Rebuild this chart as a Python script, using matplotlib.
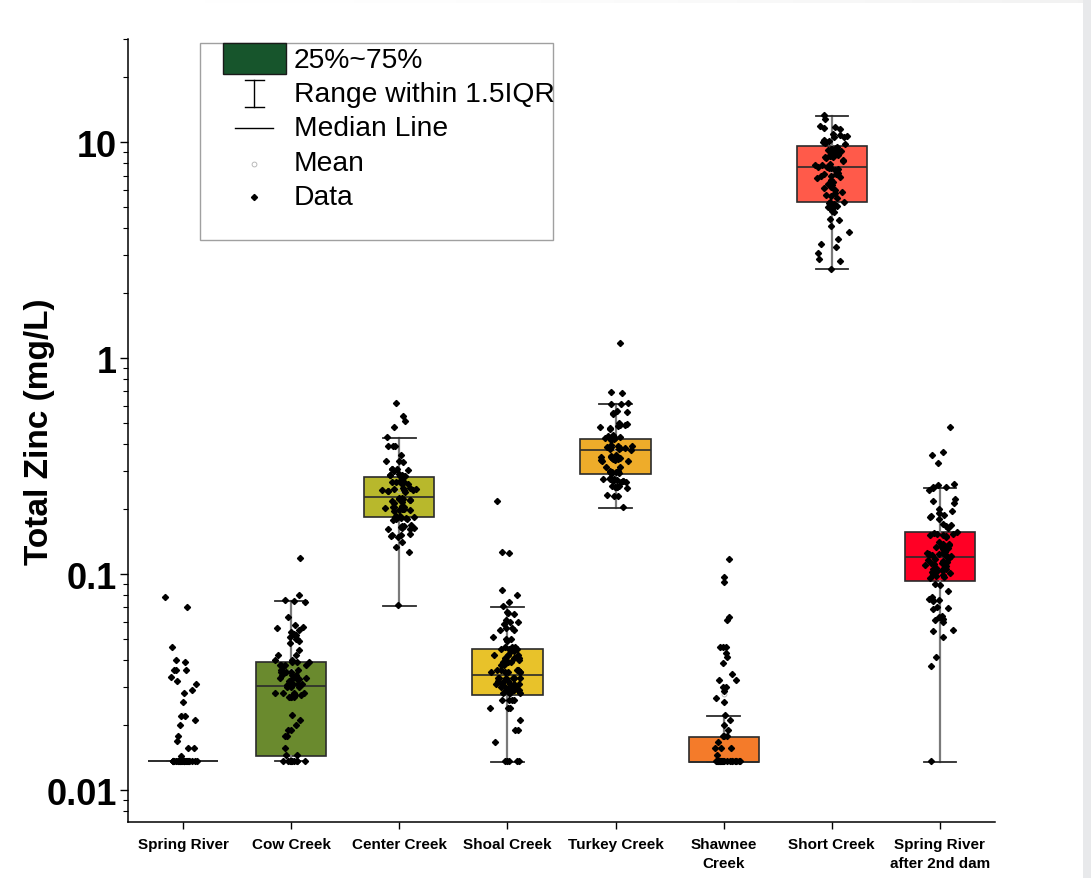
import numpy as np
import matplotlib.pyplot as plt
from matplotlib.patches import Rectangle
from matplotlib.lines import Line2D
from matplotlib.ticker import LogLocator, NullFormatter

plt.rcParams['font.family'] = ['Liberation Sans', 'DejaVu Sans']

# Sites along the x axis
sites = ["Spring River", "Cow Creek", "Center Creek", "Shoal Creek",
         "Turkey Creek", "Shawnee\nCreek", "Short Creek",
         "Spring River\nafter 2nd dam"]
box_colors = ["#3E7FA8", "#6A8A2E", "#B8B82C", "#E8C22A",
              "#EEAC2A", "#F47B2A", "#FF5A4A", "#FF0025"]

# Box statistics (mg/L): lower whisker, Q1, median, Q3, upper whisker
whis_lo = [0.0136, 0.0136, 0.0711, 0.0135, 0.202, 0.0135, 2.58, 0.0135]
q1 = [0.0136, 0.0144, 0.184, 0.0275, 0.290, 0.0135, 5.27, 0.0929]
median = [0.0136, 0.0303, 0.227, 0.034, 0.375, 0.0135, 7.66, 0.120]
q3 = [0.0136, 0.0392, 0.281, 0.045, 0.422, 0.0176, 9.58, 0.156]
whis_hi = [0.0136, 0.075, 0.426, 0.0703, 0.612, 0.0220, 13.2, 0.250]

# Individual samples, total zinc (mg/L)
spring_river = [0.078, 0.070, 0.046, 0.040, 0.039, 0.036, 0.036, 0.036, 0.0335,
                0.032, 0.031, 0.029, 0.028, 0.0256, 0.022, 0.022, 0.021, 0.020,
                0.0178, 0.0168, 0.0156, 0.0156, 0.0144] + [0.0136] * 25
cow_creek = [0.119, 0.080, 0.076, 0.075, 0.074, 0.063, 0.058, 0.057, 0.056,
             0.055, 0.054, 0.053, 0.052, 0.051, 0.050, 0.050, 0.049, 0.048,
             0.0445, 0.042, 0.042, 0.040, 0.040, 0.039, 0.039, 0.039, 0.038,
             0.038, 0.038, 0.038, 0.037, 0.036, 0.036, 0.035, 0.035, 0.035,
             0.034, 0.034, 0.034, 0.033, 0.033, 0.033, 0.0325, 0.0325, 0.032,
             0.031, 0.031, 0.031, 0.0305, 0.030, 0.030, 0.030, 0.028, 0.028,
             0.028, 0.028, 0.0275, 0.0275, 0.027, 0.027, 0.027, 0.027, 0.0223,
             0.021, 0.0201, 0.0189, 0.0189, 0.0178, 0.0178, 0.0156, 0.0145,
             0.0145] + [0.0136] * 10
center_creek = [0.616, 0.537, 0.513, 0.478, 0.430, 0.392, 0.392, 0.390, 0.356,
                0.334, 0.334, 0.330, 0.306, 0.306, 0.305, 0.303, 0.300, 0.290,
                0.288, 0.287, 0.287, 0.285, 0.284, 0.283, 0.282, 0.270, 0.268,
                0.267, 0.266, 0.265, 0.262, 0.250, 0.249, 0.248, 0.247, 0.246,
                0.245, 0.244, 0.243, 0.242, 0.240, 0.226, 0.224, 0.223, 0.222,
                0.221, 0.220, 0.219, 0.218, 0.216, 0.214, 0.206, 0.205, 0.204,
                0.204, 0.203, 0.202, 0.201, 0.200, 0.199, 0.198, 0.197, 0.196,
                0.186, 0.185, 0.184, 0.184, 0.183, 0.182, 0.181, 0.180, 0.179,
                0.178, 0.168, 0.167, 0.166, 0.165, 0.164, 0.163, 0.162, 0.161,
                0.153, 0.152, 0.151, 0.150, 0.149, 0.141, 0.133, 0.126, 0.072]
shoal_creek = [0.218, 0.127, 0.125, 0.0845, 0.0799, 0.0744, 0.071, 0.067,
               0.066, 0.065, 0.061, 0.060, 0.060, 0.059, 0.056, 0.056, 0.055,
               0.055, 0.051, 0.050, 0.050, 0.049, 0.046, 0.046, 0.046, 0.045,
               0.045, 0.045, 0.044, 0.044, 0.042, 0.042, 0.042, 0.042, 0.041,
               0.041, 0.041, 0.040, 0.040, 0.039, 0.039, 0.039, 0.038, 0.038,
               0.036, 0.036, 0.036, 0.036, 0.036, 0.035, 0.035, 0.035, 0.035,
               0.035, 0.033, 0.033, 0.033, 0.033, 0.033, 0.033, 0.033, 0.032,
               0.032, 0.032, 0.031, 0.031, 0.031, 0.031, 0.031, 0.030, 0.030,
               0.030, 0.030, 0.030, 0.030, 0.030, 0.029, 0.029, 0.029, 0.029,
               0.028, 0.028, 0.028, 0.028, 0.026, 0.026, 0.026, 0.026, 0.024,
               0.024, 0.024, 0.0211, 0.019, 0.019, 0.0167] + [0.0136] * 5
turkey_creek = [1.17, 0.694, 0.690, 0.617, 0.615, 0.612, 0.570, 0.560, 0.555,
                0.550, 0.500, 0.495, 0.490, 0.488, 0.485, 0.480, 0.475, 0.470,
                0.440, 0.435, 0.432, 0.430, 0.428, 0.425, 0.420, 0.418, 0.395,
                0.392, 0.390, 0.388, 0.387, 0.385, 0.383, 0.380, 0.378, 0.376,
                0.355, 0.352, 0.350, 0.348, 0.346, 0.344, 0.342, 0.340, 0.338,
                0.336, 0.334, 0.332, 0.313, 0.312, 0.300, 0.299, 0.298, 0.297,
                0.296, 0.295, 0.294, 0.293, 0.278, 0.276, 0.275, 0.274, 0.272,
                0.271, 0.270, 0.269, 0.268, 0.266, 0.256, 0.255, 0.254, 0.253,
                0.252, 0.250, 0.231, 0.230, 0.229, 0.204]
shawnee_creek = [0.117, 0.0966, 0.092, 0.0634, 0.0611, 0.046, 0.0459, 0.0458,
                 0.0432, 0.0413, 0.0388, 0.0344, 0.0323, 0.0323, 0.0301,
                 0.0300, 0.0288, 0.0267, 0.0256, 0.0222, 0.0211, 0.020, 0.019,
                 0.0178, 0.0178, 0.0178, 0.0167, 0.0156, 0.0156, 0.0156,
                 0.0145] + [0.0136] * 20
short_creek = [13.3, 12.8, 11.9, 11.7, 11.6, 11.5, 10.9, 10.8, 10.7, 10.6, 10.5,
               10.2, 10.1, 10.0, 10.0, 9.9, 9.8, 9.5, 9.4, 9.3, 9.3, 9.2, 9.2,
               9.1, 9.0, 8.8, 8.7, 8.7, 8.6, 8.6, 8.5, 8.5, 8.4, 8.3, 8.2, 7.9,
               7.8, 7.8, 7.7, 7.7, 7.6, 7.6, 7.5, 7.4, 7.3, 7.2, 7.1, 7.1, 7.0,
               7.0, 6.9, 6.8, 6.7, 6.5, 6.4, 6.3, 6.3, 6.2, 6.1, 6.0, 5.9, 5.8,
               5.7, 5.6, 5.5, 5.3, 5.25, 5.2, 5.15, 5.1, 5.05, 5.0, 4.95, 4.9,
               4.8, 4.75, 4.41, 4.35, 4.09, 3.83, 3.56, 3.37, 3.27, 3.06, 2.87,
               2.81, 2.58]
spring_river_2nd_dam = [0.478, 0.367, 0.357, 0.328, 0.262, 0.258, 0.254, 0.252,
                        0.250, 0.246, 0.222, 0.218, 0.214, 0.200, 0.196, 0.192,
                        0.188, 0.185, 0.183, 0.180, 0.170, 0.168, 0.166, 0.164,
                        0.156, 0.155, 0.154, 0.153, 0.152, 0.151, 0.150, 0.149,
                        0.140, 0.138, 0.137, 0.136, 0.135, 0.134, 0.133, 0.132,
                        0.131, 0.130, 0.127, 0.126, 0.125, 0.125, 0.124, 0.124,
                        0.123, 0.122, 0.122, 0.121, 0.120, 0.119, 0.117, 0.116,
                        0.115, 0.114, 0.114, 0.113, 0.112, 0.111, 0.110, 0.109,
                        0.107, 0.106, 0.105, 0.105, 0.104, 0.103, 0.102, 0.101,
                        0.100, 0.099, 0.098, 0.097, 0.096, 0.090, 0.089, 0.0834,
                        0.078, 0.077, 0.0766, 0.076, 0.075, 0.070, 0.0696, 0.069,
                        0.064, 0.063, 0.0625, 0.062, 0.061, 0.060, 0.055, 0.0545,
                        0.0511, 0.0411, 0.0376, 0.0136]

samples = [spring_river, cow_creek, center_creek, shoal_creek, turkey_creek,
           shawnee_creek, short_creek, spring_river_2nd_dam]


def spread(n, seed):
    # fixed hash-based horizontal spread, denser near the centre line
    k = np.arange(n) + seed * 131.0
    h1 = np.sin(k * 12.9898) * 43758.5453 % 1.0
    h2 = np.sin(k * 78.233) * 24634.6345 % 1.0
    return h1 + h2 - 1.0


fig = plt.figure(figsize=(10.91, 8.79), dpi=100)
W, H = 1091, 879

# light grey page edges
fig.add_artist(Rectangle((1083 / W, 0), 8 / W, 1, transform=fig.transFigure,
                         facecolor="#E8E9EB", edgecolor="none"))
grad = fig.add_axes([0, 1 - 4 / H, 1, 4 / H])
grad.imshow(np.linspace(0, 1, 256)[None, :] ** 2, aspect="auto",
            cmap="Greys", vmin=0, vmax=9, extent=(0, 1, 0, 1))
grad.axis("off")

ax = fig.add_axes([128 / W, 56 / H, 867 / W, 783 / H])
positions = np.arange(1, len(sites) + 1)

stats = []
for i in range(len(sites)):
    stats.append(dict(med=median[i], q1=q1[i], q3=q3[i],
                      whislo=whis_lo[i], whishi=whis_hi[i], fliers=[]))

bp = ax.bxp(stats, positions=positions, widths=0.65, capwidths=0.30,
            patch_artist=True, showfliers=False,
            boxprops=dict(edgecolor="#2b2b2b", linewidth=1.2),
            medianprops=dict(color="#2b2b2b", linewidth=1.2),
            whiskerprops=dict(color="#7a7a7a", linewidth=1.6),
            capprops=dict(color="#2b2b2b", linewidth=1.3))
for patch, c in zip(bp["boxes"], box_colors):
    patch.set_facecolor(c)
    patch.set_zorder(2)

# jittered samples on top of each box
for i, (pos, vals) in enumerate(zip(positions, samples)):
    vals = np.asarray(vals)
    offs = spread(len(vals), i) * 0.17
    ax.plot(pos + offs, vals, linestyle="none", marker="D", markersize=3.1,
            color="black", zorder=4)
    ax.plot(pos, vals.mean(), linestyle="none", marker="o", markersize=3.5,
            markerfacecolor="none", markeredgecolor="#b0b0b0",
            markeredgewidth=0.6, zorder=3)

ax.set_yscale("log")
ax.set_ylim(0.00711, 30)
ax.set_xlim(0.49, 8.51)
ax.set_yticks([0.01, 0.1, 1, 10])
ax.set_yticklabels(["0.01", "0.1", "1", "10"], fontsize=26, fontweight="bold")
ax.yaxis.set_minor_locator(LogLocator(base=10, subs=np.arange(2, 10)))
ax.yaxis.set_minor_formatter(NullFormatter())
ax.tick_params(axis="y", which="major", length=6, width=1, pad=2)
ax.tick_params(axis="y", which="minor", length=3.5, width=0.8)
ax.set_xticks(positions)
ax.set_xticklabels(sites, fontsize=11, fontweight="bold", linespacing=1.45)
ax.tick_params(axis="x", length=5, width=1, pad=6)
for s in ["top", "right"]:
    ax.spines[s].set_visible(False)
for s in ["left", "bottom"]:
    ax.spines[s].set_linewidth(1.1)

fig.text(40 / W, 1 - 432 / H, "Total Zinc (mg/L)", rotation=90, ha="center",
         va="center", fontsize=24, fontweight="bold")

# legend panel
def fx(x):
    return x / W


def fy(y):
    return 1 - y / H


fig.add_artist(Rectangle((fx(200), fy(241)), fx(353), 197 / H,
                         transform=fig.transFigure, facecolor="white",
                         edgecolor="#a0a0a0", linewidth=1, zorder=6))
fig.add_artist(Rectangle((fx(223), fy(75)), fx(63), 31 / H,
                         transform=fig.transFigure, facecolor="#17552C",
                         edgecolor="#1a1a1a", linewidth=1, zorder=7))
for seg in [((254, 254), (81, 108)), ((245, 264), (81, 81)),
            ((245, 264), (108, 108)), ((235, 273), (129, 129))]:
    fig.add_artist(Line2D([fx(v) for v in seg[0]], [fy(v) for v in seg[1]],
                          transform=fig.transFigure, color="black",
                          linewidth=1, zorder=7))
fig.add_artist(Line2D([fx(254)], [fy(165)], transform=fig.transFigure,
                      marker="o", markersize=3.5, markerfacecolor="none",
                      markeredgecolor="#b0b0b0", markeredgewidth=0.6,
                      linestyle="none", zorder=7))
fig.add_artist(Line2D([fx(254)], [fy(198)], transform=fig.transFigure,
                      marker="D", markersize=3.1, color="black",
                      linestyle="none", zorder=7))
legend_labels = ["25%~75%", "Range within 1.5IQR", "Median Line", "Mean", "Data"]
for lab, y in zip(legend_labels, [61, 95, 129, 164, 198]):
    fig.text(fx(294), fy(y), lab, fontsize=20.3, ha="left", va="center",
             zorder=8)

fig.savefig("out.png", dpi=100)
